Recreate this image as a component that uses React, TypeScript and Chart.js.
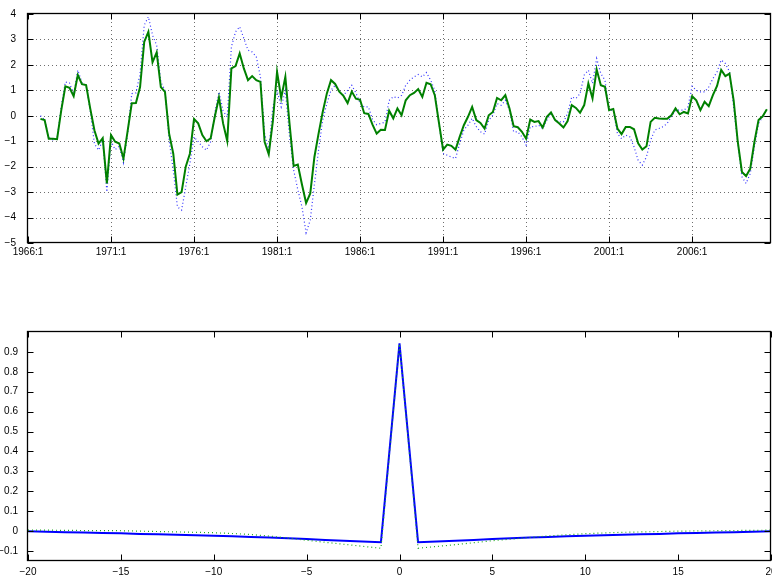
import React, { useEffect, useRef } from 'react';
import { Chart, registerables } from 'chart.js';

Chart.register(...registerables);
Chart.defaults.font.family = '"Liberation Sans", Arial, Helvetica, sans-serif';
Chart.defaults.font.size = 10;
Chart.defaults.color = '#000';

// ---------------- Top panel: quarterly series (index 0 = 1966:1) ----------------
const FIRST_QUARTER_INDEX = 3;
const X_MAX_TOP = 179;

const SERIES_SOLID = [
  -0.12, -0.17, -0.90, -0.90, -0.92, 0.20, 1.16, 1.10, 0.77, 1.60,
  1.24, 1.21, 0.28, -0.57, -1.09, -0.88, -2.66, -0.76, -1.02, -1.09,
  -1.68, -0.60, 0.49, 0.50, 1.13, 2.90, 3.30, 2.10, 2.49, 1.13,
  0.94, -0.70, -1.49, -3.10, -3.00, -2.00, -1.49, -0.13, -0.30, -0.76,
  -1.00, -0.89, -0.04, 0.72, -0.30, -0.99, 1.86, 1.95, 2.45, 1.86,
  1.40, 1.56, 1.40, 1.33, -1.02, -1.51, -0.20, 1.73, 0.70, 1.53,
  -0.30, -1.97, -1.92, -2.70, -3.43, -3.05, -1.62, -0.70, 0.15, 0.88,
  1.40, 1.25, 0.95, 0.78, 0.50, 0.95, 0.67, 0.63, 0.10, 0.07,
  -0.35, -0.70, -0.55, -0.56, 0.20, -0.10, 0.29, 0.02, 0.61, 0.81,
  0.90, 1.05, 0.74, 1.30, 1.24, 0.81, -0.27, -1.33, -1.13, -1.18,
  -1.33, -0.83, -0.37, -0.04, 0.35, -0.17, -0.28, -0.50, 0.02, 0.15,
  0.70, 0.61, 0.81, 0.29, -0.41, -0.45, -0.63, -0.90, -0.15, -0.24,
  -0.21, -0.46, -0.04, 0.13, -0.17, -0.30, -0.46, -0.21, 0.42, 0.31,
  0.12, 0.42, 1.27, 0.68, 1.82, 1.20, 1.14, 0.22, 0.27, -0.50,
  -0.72, -0.44, -0.44, -0.53, -1.08, -1.33, -1.20, -0.24, -0.08, -0.11,
  -0.12, -0.12, 0.02, 0.29, 0.06, 0.15, 0.09, 0.77, 0.61, 0.22,
  0.55, 0.38, 0.81, 1.17, 1.80, 1.56, 1.66, 0.61, -1.03, -2.21,
  -2.37, -2.08, -1.03, -0.17, -0.02, 0.26,
];

const SERIES_DOTTED = [
  0.00, -0.15, -0.85, -0.95, -0.90, 0.35, 1.33, 1.29, 0.85, 1.79,
  1.30, 1.20, 0.20, -1.10, -1.35, -0.95, -2.99, -1.00, -1.33, -1.20,
  -1.84, -0.70, 0.87, 0.90, 1.66, 3.56, 3.89, 3.17, 2.77, 1.33,
  1.00, -0.96, -2.14, -3.58, -3.71, -2.80, -1.88, -0.83, -1.02, -1.22,
  -1.35, -1.02, 0.10, 0.94, 0.20, -0.05, 2.71, 3.30, 3.50, 3.04,
  2.58, 2.51, 2.32, 1.53, -0.70, -1.35, 0.35, 1.00, 0.35, 1.00,
  -0.80, -2.14, -2.90, -3.58, -4.60, -4.10, -2.70, -1.35, -0.17, 0.48,
  1.00, 1.20, 0.95, 0.80, 1.00, 1.20, 0.90, 0.50, 0.35, 0.35,
  -0.15, -0.35, -0.30, -0.25, 0.60, 0.75, 0.70, 0.80, 1.20, 1.40,
  1.53, 1.62, 1.53, 1.70, 1.40, 1.00, -0.30, -1.48, -1.55, -1.62,
  -1.68, -1.09, -0.56, -0.37, -0.10, -0.43, -0.63, -0.72, -0.17, 0.02,
  0.48, 0.41, 0.61, 0.22, -0.63, -0.63, -0.83, -1.15, -0.43, -0.43,
  -0.37, -0.50, -0.17, 0.09, -0.17, -0.24, -0.24, 0.09, 0.74, 0.68,
  0.87, 1.60, 1.79, 1.27, 2.25, 1.66, 1.40, 0.22, 0.22, -0.70,
  -0.90, -0.76, -0.83, -1.22, -1.75, -1.94, -1.61, -0.96, -0.56, -0.50,
  -0.43, -0.30, -0.04, 0.22, 0.22, 0.22, 0.35, 1.16, 1.00, 0.94,
  0.94, 1.13, 1.46, 1.73, 2.19, 2.06, 1.73, 0.35, -1.09, -2.40,
  -2.66, -2.27, -1.22, -0.30, -0.04, 0.26,
];

const X_TICKS_TOP = [0, 20, 40, 60, 80, 100, 120, 140, 160];
const X_TICK_LABELS_TOP = ['1966:1', '1971:1', '1976:1', '1981:1', '1986:1', '1991:1', '1996:1', '2001:1', '2006:1'];
const Y_TICKS_TOP = [-5, -4, -3, -2, -1, 0, 1, 2, 3, 4];
const Y_TICK_LABELS_TOP = ['\u22125', '\u22124', '\u22123', '\u22122', '\u22121', '0', '1', '2', '3', '4'];

// ---------------- Bottom panel: correlation by lag ----------------
const LAGS = [
  -20, -19, -18, -17, -16, -15, -14, -13, -12, -11, -10, -9, -8, -7, -6, -5, -4, -3, -2, -1,
  0, 1, 2, 3, 4, 5, 6, 7, 8, 9, 10, 11, 12, 13, 14, 15, 16, 17, 18, 19, 20,
];
const CORR_SOLID = [
  -0.001, -0.003, -0.005, -0.007, -0.009, -0.011, -0.014, -0.016, -0.018, -0.021,
  -0.023, -0.026, -0.029, -0.032, -0.036, -0.040, -0.044, -0.048, -0.052, -0.056,
  0.943,
  -0.056, -0.052, -0.048, -0.044, -0.040, -0.036, -0.032, -0.029, -0.026, -0.023,
  -0.021, -0.018, -0.016, -0.014, -0.011, -0.009, -0.007, -0.005, -0.003, -0.001,
];
const CORR_DOTTED = [
  0.005, 0.005, 0.004, 0.003, 0.003, 0.002, 0.000, -0.002, -0.004, -0.006,
  -0.008, -0.012, -0.017, -0.025, -0.035, -0.046, -0.056, -0.066, -0.076, -0.086,
  0.940,
  -0.086, -0.077, -0.068, -0.058, -0.048, -0.040, -0.032, -0.024, -0.018, -0.013,
  -0.009, -0.006, -0.004, -0.002, 0.000, 0.001, 0.002, 0.003, 0.004, 0.005,
];
const X_TICKS_BOTTOM = [-20, -15, -10, -5, 0, 5, 10, 15, 20];
const X_TICK_LABELS_BOTTOM = ['\u221220', '\u221215', '\u221210', '\u22125', '0', '5', '10', '15', '20'];
const Y_TICKS_BOTTOM = [-0.1, 0, 0.1, 0.2, 0.3, 0.4, 0.5, 0.6, 0.7, 0.8, 0.9];
const Y_TICK_LABELS_BOTTOM = ['\u22120.1', '0', '0.1', '0.2', '0.3', '0.4', '0.5', '0.6', '0.7', '0.8', '0.9'];

// ---------------- MATLAB-like axes plugin ----------------
function matlabAxes(drawGrid: boolean, xTicks: number[], yTicks: number[]) {
  return {
    id: 'matlabAxes',
    beforeDatasetsDraw(chart: any) {
      if (!drawGrid) return;
      const { ctx, chartArea: a, scales } = chart;
      ctx.save();
      ctx.strokeStyle = '#6e6e6e';
      ctx.lineWidth = 1;
      ctx.setLineDash([1, 3]);
      for (const v of xTicks) {
        const px = Math.round(scales.x.getPixelForValue(v)) + 0.5;
        if (px <= a.left + 1 || px >= a.right - 1) continue;
        ctx.beginPath();
        ctx.moveTo(px, a.bottom);
        ctx.lineTo(px, a.top);
        ctx.stroke();
      }
      for (const v of yTicks) {
        const py = Math.round(scales.y.getPixelForValue(v)) + 0.5;
        if (py <= a.top + 1 || py >= a.bottom - 1) continue;
        ctx.beginPath();
        ctx.moveTo(a.left, py);
        ctx.lineTo(a.right, py);
        ctx.stroke();
      }
      ctx.restore();
    },
    afterDatasetsDraw(chart: any) {
      const { ctx, chartArea: a, scales } = chart;
      const L = Math.round(a.left) - 0.5;
      const R = Math.round(a.right) - 0.5;
      const T = Math.round(a.top) - 0.5;
      const B = Math.round(a.bottom) - 0.5;
      const len = 6;
      ctx.save();
      ctx.strokeStyle = '#000';
      ctx.lineWidth = 1;
      ctx.setLineDash([]);
      ctx.beginPath();
      for (const v of xTicks) {
        const px = Math.round(scales.x.getPixelForValue(v)) + 0.5;
        ctx.moveTo(px, B);
        ctx.lineTo(px, B - len);
        ctx.moveTo(px, T);
        ctx.lineTo(px, T + len);
      }
      for (const v of yTicks) {
        const py = Math.round(scales.y.getPixelForValue(v)) + 0.5;
        ctx.moveTo(L, py);
        ctx.lineTo(L + len, py);
        ctx.moveTo(R, py);
        ctx.lineTo(R - len, py);
      }
      ctx.stroke();
      ctx.lineWidth = 1.3;
      ctx.strokeRect(L, T, R - L, B - T);
      ctx.restore();
    },
  };
}

function noScalePadding(s: any) {
  s.paddingLeft = 0;
  s.paddingRight = 0;
  s.paddingTop = 0;
  s.paddingBottom = 0;
}

function topConfig(): any {
  return {
    type: 'line',
    data: {
      datasets: [
        {
          label: 'solid',
          data: SERIES_SOLID.map((v, k) => ({ x: FIRST_QUARTER_INDEX + k, y: v })),
          borderColor: 'rgb(0,128,0)',
          borderWidth: 2,
          pointRadius: 0,
          tension: 0,
          fill: false,
        },
        {
          label: 'dotted',
          data: SERIES_DOTTED.map((v, k) => ({ x: FIRST_QUARTER_INDEX + k, y: v })),
          borderColor: 'rgb(50,50,255)',
          borderWidth: 1.2,
          borderDash: [1, 2.5],
          pointRadius: 0,
          tension: 0,
          fill: false,
        },
      ],
    },
    options: {
      responsive: false,
      animation: false,
      events: [],
      plugins: { legend: { display: false }, tooltip: { enabled: false } },
      layout: { autoPadding: false, padding: { top: 14, right: 1, left: 0, bottom: 0 } },
      scales: {
        x: {
          type: 'linear',
          min: 0,
          max: X_MAX_TOP,
          grid: { display: false },
          border: { display: false },
          afterBuildTicks: (s: any) => {
            s.ticks = X_TICKS_TOP.map((v) => ({ value: v }));
          },
          afterFit: (s: any) => {
            s.height = 27;
            noScalePadding(s);
          },
          ticks: {
            autoSkip: false,
            maxRotation: 0,
            padding: -5,
            color: '#000',
            callback: (v: number) => X_TICK_LABELS_TOP[X_TICKS_TOP.indexOf(v)],
          },
        },
        y: {
          type: 'linear',
          min: -5,
          max: 4,
          grid: { display: false },
          border: { display: false },
          afterBuildTicks: (s: any) => {
            s.ticks = Y_TICKS_TOP.map((v) => ({ value: v }));
          },
          afterFit: (s: any) => {
            s.width = 28;
            noScalePadding(s);
          },
          ticks: {
            autoSkip: false,
            padding: 4,
            color: '#000',
            callback: (v: number) => Y_TICK_LABELS_TOP[Y_TICKS_TOP.indexOf(v)],
          },
        },
      },
    },
    plugins: [matlabAxes(true, X_TICKS_TOP, Y_TICKS_TOP)],
  };
}

function bottomConfig(): any {
  return {
    type: 'line',
    data: {
      datasets: [
        {
          label: 'dotted',
          data: CORR_DOTTED.map((v, k) => ({ x: LAGS[k], y: v })),
          borderColor: 'rgb(30,170,30)',
          borderWidth: 1.2,
          borderDash: [1, 3],
          pointRadius: 0,
          tension: 0,
          fill: false,
        },
        {
          label: 'solid',
          data: CORR_SOLID.map((v, k) => ({ x: LAGS[k], y: v })),
          borderColor: 'rgb(0,0,255)',
          borderWidth: 2,
          pointRadius: 0,
          tension: 0,
          fill: false,
        },
      ],
    },
    options: {
      responsive: false,
      animation: false,
      events: [],
      plugins: { legend: { display: false }, tooltip: { enabled: false } },
      layout: { autoPadding: false, padding: { top: 32, right: 1, left: 0, bottom: 0 } },
      scales: {
        x: {
          type: 'linear',
          min: -20,
          max: 20,
          grid: { display: false },
          border: { display: false },
          afterBuildTicks: (s: any) => {
            s.ticks = X_TICKS_BOTTOM.map((v) => ({ value: v }));
          },
          afterFit: (s: any) => {
            s.height = 15;
            noScalePadding(s);
          },
          ticks: {
            autoSkip: false,
            maxRotation: 0,
            padding: -3,
            color: '#000',
            callback: (v: number) => X_TICK_LABELS_BOTTOM[X_TICKS_BOTTOM.indexOf(v)],
          },
        },
        y: {
          type: 'linear',
          min: -0.15,
          max: 1.0,
          grid: { display: false },
          border: { display: false },
          afterBuildTicks: (s: any) => {
            s.ticks = Y_TICKS_BOTTOM.map((v) => ({ value: v }));
          },
          afterFit: (s: any) => {
            s.width = 28;
            noScalePadding(s);
          },
          ticks: {
            autoSkip: false,
            padding: 2,
            color: '#000',
            callback: (v: number) => Y_TICK_LABELS_BOTTOM[Y_TICKS_BOTTOM.indexOf(v)],
          },
        },
      },
    },
    plugins: [matlabAxes(false, X_TICKS_BOTTOM, Y_TICKS_BOTTOM)],
  };
}

function Panel({ top, height, makeConfig }: { top: number; height: number; makeConfig: () => any }) {
  const ref = useRef<HTMLCanvasElement | null>(null);
  useEffect(() => {
    if (!ref.current) return;
    const chart = new Chart(ref.current, makeConfig());
    return () => chart.destroy();
  }, []);
  return (
    <div style={{ position: 'absolute', left: 0, top, width: 772, height }}>
      <canvas ref={ref} width={772} height={height} style={{ width: 772, height, display: 'block' }} />
    </div>
  );
}

export default function App() {
  return (
    <div style={{ position: 'absolute', left: 0, top: 0, width: 772, height: 576, background: '#fff', overflow: 'hidden' }}>
      <Panel top={0} height={270} makeConfig={topConfig} />
      <Panel top={300} height={276} makeConfig={bottomConfig} />
    </div>
  );
}
